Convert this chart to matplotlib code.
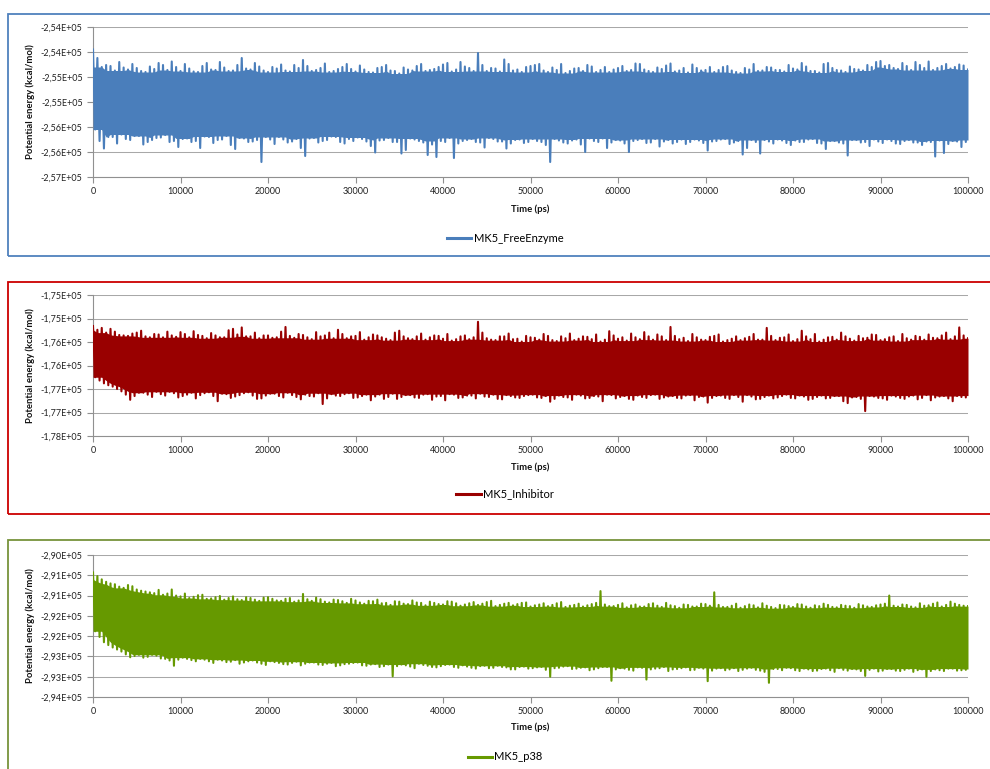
import numpy as np
import matplotlib
matplotlib.use('Agg')
import matplotlib.pyplot as plt
from matplotlib.patches import Rectangle

plt.rcParams['font.family'] = ['Lato', 'DejaVu Sans']

# envelope samples: "*_hi"/"*_lo" at 0, 1000, ... ps and "*_mid" at 500, 1500, ... ps
time_ps = np.arange(0, 100001, 1000)
time_mid_ps = np.arange(500, 100000, 1000)

# MK5_FreeEnzyme: spike tops / spike bottoms of the potential energy trace (kcal/mol)
free_hi = [
    -254450, -254800, -254780, -254700, -254850, -254820, -254900, -254840, -254760, -254690,
    -254880, -254830, -254900, -254720, -254860, -254810, -254870, -254620, -254850, -254790,
    -254900, -254830, -254870, -254760, -254660, -254880, -254820, -254900, -254840, -254740,
    -254890, -254850, -254910, -254800, -254870, -254930, -254850, -254780, -254880, -254840,
    -254750, -254890, -254700, -254820, -254520, -254880, -254830, -254650, -254870, -254900,
    -254780, -254740, -254900, -254860, -254920, -254830, -254880, -254790, -254860, -254900,
    -254820, -254880, -254730, -254850, -254900, -254840, -254730, -254870, -254910, -254820,
    -254860, -254900, -254800, -254870, -254920, -254850, -254880, -254800, -254860, -254890,
    -254830, -254720, -254880, -254910, -254720, -254860, -254900, -254840, -254870, -254800,
    -254680, -254760, -254840, -254780, -254700, -254820, -254860, -254780, -254830, -254750,
    -254850]
free_hi_mid = [
    -254620, -254760, -254870, -254810, -254740, -254880, -254790, -254720, -254860, -254800,
    -254740, -254890, -254780, -254850, -254700, -254880, -254760, -254830, -254720, -254870,
    -254800, -254750, -254890, -254820, -254780, -254860, -254730, -254880, -254800, -254840,
    -254770, -254900, -254820, -254760, -254880, -254810, -254870, -254740, -254860, -254800,
    -254720, -254850, -254790, -254880, -254760, -254820, -254890, -254740, -254850, -254800,
    -254760, -254870, -254810, -254740, -254880, -254820, -254760, -254900, -254800, -254850,
    -254780, -254860, -254740, -254880, -254810, -254770, -254890, -254820, -254750, -254870,
    -254800, -254860, -254780, -254900, -254820, -254740, -254870, -254810, -254860, -254760,
    -254850, -254790, -254880, -254740, -254820, -254870, -254790, -254850, -254760, -254700,
    -254780, -254820, -254720, -254860, -254760, -254690, -254820, -254740, -254800, -254770]
free_lo = [
    -256050, -256430, -256200, -256150, -256260, -256180, -256300, -256220, -256160, -256280,
    -256240, -256300, -256420, -256200, -256260, -256180, -256440, -256230, -256290, -256700,
    -256250, -256200, -256310, -256240, -256580, -256220, -256280, -256190, -256300, -256240,
    -256210, -256290, -256510, -256260, -256300, -256530, -256230, -256280, -256560, -256600,
    -256300, -256620, -256280, -256240, -256310, -256220, -256290, -256430, -256260, -256320,
    -256240, -256300, -256700, -256270, -256330, -256250, -256500, -256280, -256230, -256310,
    -256270, -256500, -256260, -256320, -256240, -256290, -256330, -256250, -256300, -256270,
    -256470, -256280, -256240, -256310, -256550, -256260, -256530, -256290, -256250, -256320,
    -256270, -256300, -256240, -256330, -256280, -256310, -256570, -256260, -256300, -256250,
    -256320, -256280, -256340, -256260, -256310, -256290, -256590, -256520, -256280, -256400,
    -256260]
free_lo_mid = [
    -256280, -256200, -256330, -256240, -256180, -256350, -256260, -256210, -256300, -256400,
    -256230, -256280, -256190, -256320, -256250, -256360, -256220, -256300, -256260, -256200,
    -256340, -256250, -256290, -256420, -256230, -256310, -256260, -256200, -256330, -256280,
    -256240, -256380, -256270, -256220, -256300, -256460, -256250, -256310, -256350, -256280,
    -256220, -256330, -256260, -256300, -256410, -256240, -256290, -256330, -256250, -256300,
    -256280, -256360, -256240, -256310, -256270, -256350, -256230, -256300, -256420, -256260,
    -256330, -256280, -256240, -256310, -256390, -256260, -256300, -256340, -256250, -256320,
    -256290, -256250, -256340, -256280, -256420, -256300, -256260, -256330, -256270, -256360,
    -256300, -256250, -256320, -256440, -256280, -256330, -256260, -256310, -256380, -256290,
    -256250, -256330, -256280, -256310, -256360, -256300, -256270, -256340, -256290, -256300]

# MK5_Inhibitor
inhib_hi = [
    -175660, -175700, -175720, -175850, -175870, -175800, -175880, -175830, -175900, -175860,
    -175790, -175900, -175850, -175920, -175860, -175900, -175720, -175690, -175880, -175920,
    -175860, -175900, -175680, -175910, -175850, -175940, -175880, -175800, -175740, -175920,
    -175870, -175950, -175840, -175900, -175960, -175760, -175920, -175880, -175950, -175860,
    -175930, -175970, -175880, -175940, -175570, -175920, -175960, -175880, -175940, -175990,
    -175900, -175950, -175870, -175980, -175920, -175960, -175880, -175940, -175990, -175770,
    -175930, -175970, -175900, -175790, -175950, -175880, -175680, -175940, -175980, -175900,
    -175960, -175870, -175990, -175930, -175960, -175890, -175950, -175700, -175960, -175900,
    -175980, -175760, -175940, -175990, -175900, -175950, -175880, -175970, -175920, -175840,
    -175960, -175900, -175980, -175920, -175870, -175950, -175910, -175860, -175940, -175690,
    -175920]
inhib_hi_mid = [
    -175740, -175800, -175780, -175860, -175820, -175760, -175900, -175840, -175780, -175890,
    -175830, -175770, -175870, -175810, -175900, -175750, -175840, -175880, -175800, -175860,
    -175910, -175780, -175870, -175830, -175900, -175790, -175860, -175920, -175830, -175880,
    -175790, -175900, -175860, -175930, -175800, -175880, -175940, -175820, -175900, -175870,
    -175830, -175940, -175860, -175900, -175800, -175950, -175880, -175820, -175930, -175870,
    -175910, -175830, -175960, -175880, -175820, -175930, -175890, -175840, -175950, -175860,
    -175900, -175820, -175940, -175880, -175840, -175960, -175870, -175910, -175830, -175950,
    -175890, -175840, -175960, -175880, -175920, -175830, -175950, -175870, -175910, -175840,
    -175940, -175880, -175830, -175950, -175890, -175800, -175930, -175870, -175910, -175850,
    -175940, -175880, -175830, -175950, -175890, -175840, -175920, -175800, -175880, -175860]
inhib_lo = [
    -176750, -176880, -176950, -177050, -177230, -177080, -177120, -177060, -177140, -177090,
    -177150, -177080, -177130, -177070, -177260, -177110, -177160, -177090, -177140, -177200,
    -177100, -177150, -177080, -177170, -177120, -177160, -177320, -177110, -177150, -177090,
    -177180, -177120, -177160, -177210, -177100, -177170, -177130, -177190, -177110, -177160,
    -177240, -177120, -177180, -177140, -177100, -177170, -177210, -177130, -177180, -177150,
    -177120, -177190, -177270, -177140, -177180, -177120, -177200, -177150, -177260, -177130,
    -177170, -177210, -177140, -177190, -177120, -177180, -177150, -177200, -177130, -177170,
    -177290, -177150, -177190, -177130, -177270, -177160, -177210, -177140, -177180, -177120,
    -177200, -177160, -177210, -177140, -177190, -177150, -177300, -177170, -177470, -177160,
    -177200, -177140, -177190, -177160, -177220, -177130, -177180, -177150, -177260, -177170,
    -177140]
inhib_lo_mid = [
    -176820, -176920, -177000, -177120, -177150, -177080, -177170, -177110, -177060, -177180,
    -177120, -177200, -177090, -177150, -177100, -177190, -177130, -177070, -177210, -177140,
    -177100, -177180, -177130, -177220, -177150, -177090, -177200, -177140, -177110, -177190,
    -177150, -177240, -177120, -177170, -177210, -177130, -177180, -177120, -177230, -177150,
    -177110, -177190, -177140, -177200, -177160, -177120, -177220, -177150, -177190, -177130,
    -177180, -177150, -177210, -177170, -177230, -177140, -177190, -177160, -177120, -177200,
    -177150, -177230, -177170, -177130, -177210, -177160, -177190, -177140, -177240, -177160,
    -177190, -177140, -177210, -177170, -177130, -177220, -177170, -177200, -177150, -177190,
    -177140, -177230, -177170, -177200, -177150, -177260, -177180, -177210, -177150, -177190,
    -177230, -177160, -177210, -177140, -177190, -177240, -177160, -177200, -177150, -177180]

# MK5_p38
p38_hi = [
    -290430, -290600, -290700, -290780, -290740, -290850, -290900, -290940, -290980, -290850,
    -291020, -291060, -290990, -291080, -291040, -291100, -291020, -291110, -291060, -291130,
    -291040, -291120, -291080, -291150, -290960, -291130, -291090, -291170, -291110, -291180,
    -291120, -291200, -291140, -291190, -291230, -291150, -291210, -291170, -291240, -291180,
    -291220, -291150, -291250, -291190, -291230, -291160, -291260, -291200, -291240, -291180,
    -291270, -291220, -291260, -291190, -291280, -291230, -291270, -291210, -290890, -291260,
    -291230, -291290, -291220, -291270, -291190, -291280, -291240, -291300, -291230, -291270,
    -291210, -290920, -291280, -291250, -291300, -291220, -291290, -291250, -291310, -291240,
    -291280, -291220, -291300, -291260, -291230, -291290, -291250, -291300, -291240, -291280,
    -291220, -291000, -291270, -291230, -291290, -291250, -291200, -291270, -291150, -291230,
    -291260]
p38_hi_mid = [
    -290520, -290660, -290720, -290810, -290770, -290880, -290920, -290860, -290950, -291000,
    -290950, -291030, -290980, -291070, -291010, -291060, -291090, -291040, -291100, -291050,
    -291080, -291130, -291060, -291120, -291090, -291050, -291150, -291100, -291140, -291080,
    -291170, -291130, -291100, -291180, -291140, -291200, -291120, -291180, -291150, -291210,
    -291140, -291190, -291220, -291160, -291200, -291130, -291230, -291180, -291210, -291170,
    -291240, -291190, -291230, -291160, -291250, -291200, -291240, -291180, -291220, -291260,
    -291190, -291240, -291270, -291210, -291250, -291180, -291260, -291220, -291270, -291200,
    -291250, -291230, -291280, -291200, -291260, -291240, -291190, -291280, -291230, -291260,
    -291210, -291270, -291240, -291200, -291280, -291230, -291260, -291210, -291270, -291240,
    -291200, -291250, -291220, -291270, -291190, -291240, -291170, -291230, -291200, -291250]
p38_lo = [
    -291880, -292150, -292280, -292380, -292520, -292460, -292510, -292480, -292560, -292730,
    -292530, -292590, -292560, -292620, -292580, -292640, -292590, -292650, -292600, -292680,
    -292620, -292660, -292700, -292630, -292680, -292650, -292710, -292660, -292720, -292680,
    -292650, -292730, -292690, -292740, -292990, -292700, -292750, -292680, -292730, -292770,
    -292710, -292760, -292720, -292780, -292740, -292790, -292730, -292770, -292820, -292750,
    -292790, -292760, -293000, -292780, -292740, -292800, -292770, -292820, -292760, -293100,
    -292790, -292830, -292770, -293070, -292800, -292760, -292820, -292790, -292840, -292780,
    -293110, -292800, -292840, -292790, -292830, -292780, -292850, -293150, -292810, -292780,
    -292840, -292800, -292860, -292810, -292840, -292790, -292850, -292820, -292980, -292800,
    -292850, -292810, -292860, -292800, -292840, -293000, -292820, -292860, -292800, -292840,
    -292810]
p38_lo_mid = [
    -292020, -292220, -292330, -292450, -292490, -292530, -292460, -292550, -292600, -292580,
    -292560, -292620, -292580, -292660, -292600, -292630, -292680, -292620, -292650, -292710,
    -292640, -292690, -292660, -292720, -292650, -292700, -292680, -292740, -292690, -292660,
    -292720, -292700, -292760, -292700, -292740, -292720, -292790, -292710, -292760, -292740,
    -292700, -292780, -292750, -292800, -292730, -292780, -292760, -292820, -292760, -292800,
    -292770, -292830, -292790, -292750, -292810, -292780, -292840, -292790, -292760, -292820,
    -292800, -292850, -292780, -292820, -292790, -292860, -292810, -292770, -292830, -292800,
    -292850, -292790, -292820, -292860, -292800, -292830, -292880, -292810, -292840, -292790,
    -292860, -292820, -292850, -292800, -292880, -292830, -292810, -292860, -292830, -292870,
    -292810, -292850, -292830, -292880, -292820, -292860, -292840, -292800, -292850, -292830]

series_names = ['MK5_FreeEnzyme', 'MK5_Inhibitor', 'MK5_p38']

free_ticks = [-257000, -256500, -256000, -255500, -255000, -254500, -254000]
free_labels = ['-2,57E+05', '-2,56E+05', '-2,56E+05', '-2,55E+05', '-2,55E+05', '-2,54E+05', '-2,54E+05']
inhib_ticks = [-178000, -177500, -177000, -176500, -176000, -175500, -175000]
inhib_labels = ['-1,78E+05', '-1,77E+05', '-1,77E+05', '-1,76E+05', '-1,76E+05', '-1,75E+05', '-1,75E+05']
p38_ticks = [-293500, -293000, -292500, -292000, -291500, -291000, -290500, -290000]
p38_labels = ['-2,94E+05', '-2,93E+05', '-2,93E+05', '-2,92E+05', '-2,92E+05', '-2,91E+05', '-2,91E+05', '-2,90E+05']

x_ticks = list(range(0, 100001, 10000))

W, H = 990, 769
fig = plt.figure(figsize=(W / 100, H / 100), dpi=100)


def fx(px):
    return px / W


def fy(py):
    return 1 - py / H


def merge(whole, half):
    # put the half-step samples between the whole-step ones
    out = np.empty(len(whole) + len(half))
    out[0::2] = whole
    out[1::2] = half
    return out


def window_min(v, k=2):
    # lowest value within +-k samples -> solid core of the band
    p = np.pad(np.asarray(v, dtype=float), k, mode='edge')
    n = len(v)
    return np.min([p[j:j + n] for j in range(2 * k + 1)], axis=0)


t_all = merge(time_ps, time_mid_ps)

panels = [
    (free_hi, free_hi_mid, free_lo, free_lo_mid, free_ticks, free_labels,
     '#4A7EBB', '#4F81BD', (27, 177), (14, 256), 209, 238),
    (inhib_hi, inhib_hi_mid, inhib_lo, inhib_lo_mid, inhib_ticks, inhib_labels,
     '#990000', '#CC0000', (295, 436), (282, 514), 467, 494),
    (p38_hi, p38_hi_mid, p38_lo, p38_lo_mid, p38_ticks, p38_labels,
     '#669900', '#77933C', (555, 697), (540, 780), 727, 757),
]

for name, (hi, hi_mid, lo, lo_mid, ticks, labels, color, border,
           (ptop, pbot), (btop, bbot), tly, lgy) in zip(series_names, panels):
    # coloured frame around each chart
    fig.patches.append(Rectangle((fx(8), fy(bbot)), fx(1000 - 8), (bbot - btop) / H,
                                 transform=fig.transFigure, fill=False,
                                 edgecolor=border, linewidth=1.3, zorder=0))

    ax = fig.add_axes([fx(93), fy(pbot), fx(875), (pbot - ptop) / H])

    top = merge(hi, hi_mid)
    bot = merge(lo, lo_mid)
    ax.fill_between(t_all, -window_min(-bot), window_min(top), color=color, linewidth=0, zorder=3)

    # the trace itself: alternate between spike tops and spike bottoms
    t_trace = np.column_stack([t_all, t_all + 250]).ravel()[:-1]
    y_trace = np.column_stack([top, bot]).ravel()[:-1]
    line, = ax.plot(t_trace, y_trace, color=color, linewidth=1.5, zorder=4)

    ax.set_xlim(0, 100000)
    ax.set_ylim(ticks[0], ticks[-1])
    ax.set_yticks(ticks)
    ax.set_yticklabels(labels)
    ax.set_xticks(x_ticks)
    ax.set_xticklabels([str(v) for v in x_ticks])
    ax.grid(axis='y', color='#a8a8a8', linewidth=0.75, zorder=1)
    ax.set_axisbelow(True)
    for s in ['top', 'right']:
        ax.spines[s].set_visible(False)
    for s in ['left', 'bottom']:
        ax.spines[s].set_color('#909090')
        ax.spines[s].set_linewidth(0.8)
    ax.tick_params(axis='both', direction='out', length=4, width=0.8, color='#909090',
                   labelsize=6.5, pad=3.5, labelcolor='#222222')

    mid = fy((ptop + pbot) / 2)
    fig.text(fx(30), mid, 'Potential energy (kcal/mol)', rotation=90, ha='center', va='center',
             fontsize=6.8, fontweight='bold', color='#111111')
    fig.text(fx(530), fy(tly), 'Time (ps)', ha='center', va='center',
             fontsize=6.8, fontweight='bold', color='#111111')
    fig.legend([line], [name], loc='center', bbox_to_anchor=(fx(505), fy(lgy)),
               frameon=False, fontsize=8, handlelength=2.2, handletextpad=0.2,
               handleheight=0.7)
    fig.legends[-1].legend_handles[0].set_linewidth(2.2)

plt.savefig('out.png', dpi=100)
